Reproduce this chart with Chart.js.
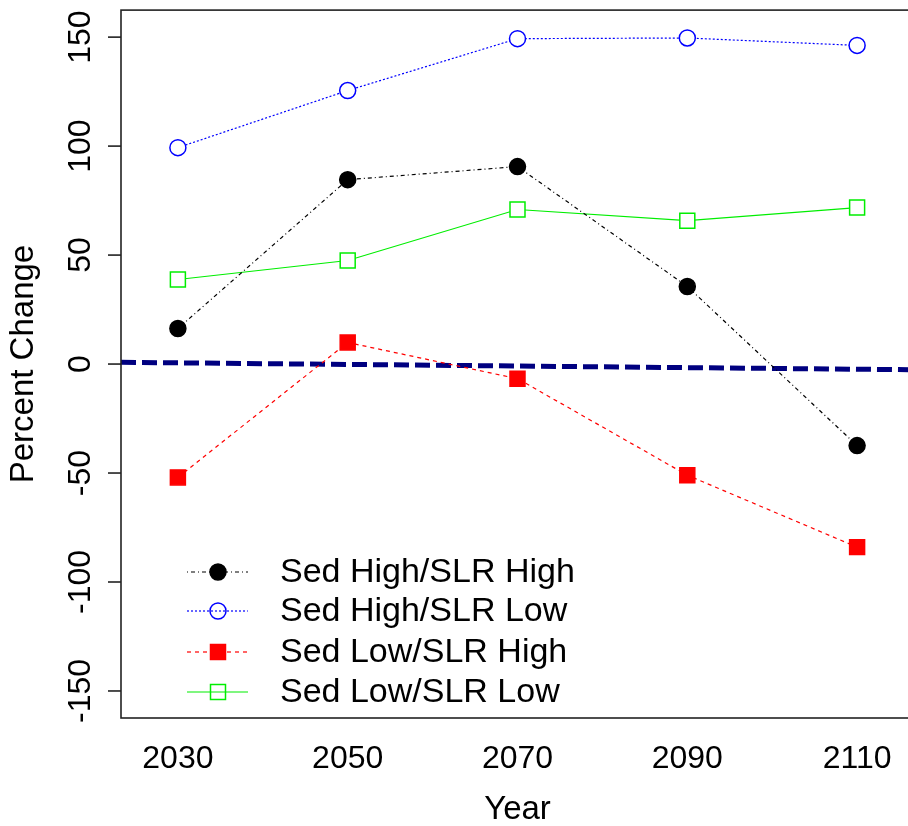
<!DOCTYPE html>
<html>
<head>
<meta charset="utf-8">
<script src="https://cdn.jsdelivr.net/npm/chart.js@4.4.1/dist/chart.umd.min.js"></script>
<style>
  body { margin: 0; background: #fff; overflow: hidden; }
  canvas { display: block; margin-top: -2px; }
</style>
</head>
<body>
<canvas id="chart" width="921" height="830"></canvas>
<script>
// values
const years = [2030, 2050, 2070, 2090, 2110];
const sedHighSlrHigh = [16.3, 84.6, 90.6, 35.6, -37.4];
const sedHighSlrLow = [99.3, 125.5, 149.3, 149.6, 146.2];
const sedLowSlrHigh = [-52, 9.9, -6.7, -51, -84];
const sedLowSlrLow = [38.8, 47.5, 70.9, 65.8, 71.8];

// the thick navy reference line, from the left edge to the right edge
const refX = [2023.3, 2116.1];
const refY = [0.8, -2.6];

const xTicks = [2030, 2050, 2070, 2090, 2110];
const yTicks = [-150, -100, -50, 0, 50, 100, 150];
const seriesNames = ['Sed High/SLR High', 'Sed High/SLR Low', 'Sed Low/SLR High', 'Sed Low/SLR Low'];

const FONT = '"Liberation Sans", Arial, sans-serif';
const OFF = 2; // canvas is shifted up by 2px (point overflow padding)

const pts = (xs, ys) => xs.map((x, i) => ({ x: x, y: ys[i] }));

const series = [
  { data: sedHighSlrHigh, color: '#000000', dash: [1, 3, 4, 3], style: 'circle', fill: '#000000', radius: 8 },
  { data: sedHighSlrLow, color: '#0000ff', dash: [2, 2], style: 'circle', fill: '#ffffff', radius: 8 },
  { data: sedLowSlrHigh, color: '#ff0000', dash: [4, 4], style: 'rect', fill: '#ff0000', radius: 10.6 },
  { data: sedLowSlrLow, color: '#00ee00', dash: [], style: 'rect', fill: '#ffffff', radius: 10.6 }
];

const datasets = series.map((s, i) => ({
  label: seriesNames[i],
  data: pts(years, s.data),
  borderColor: s.color,
  borderWidth: 1.2,
  borderDash: s.dash,
  pointStyle: s.style,
  pointRadius: s.radius,
  pointBackgroundColor: s.fill,
  pointBorderColor: s.color,
  pointBorderWidth: 1.5,
  showLine: true,
  tension: 0
}));

datasets.push({
  label: 'ref',
  data: pts(refX, refY),
  borderColor: '#000080',
  borderWidth: 5,
  borderDash: [15, 6],
  pointRadius: 0,
  showLine: true
});

// axes, box, labels and legend drawn R-style on top of the chart
const rStyle = {
  id: 'rStyle',
  afterDraw(chart) {
    const ctx = chart.ctx;
    const a = chart.chartArea;
    const xs = chart.scales.x;
    const ys = chart.scales.y;
    ctx.save();

    ctx.strokeStyle = '#222';
    ctx.lineWidth = 1.6;
    ctx.strokeRect(a.left, a.top, a.right - a.left + 4, a.bottom - a.top);

    ctx.fillStyle = '#000';
    ctx.font = '32px ' + FONT;

    // y ticks, labels rotated like R
    yTicks.forEach(v => {
      const py = ys.getPixelForValue(v);
      ctx.beginPath();
      ctx.moveTo(a.left - 13, py);
      ctx.lineTo(a.left, py);
      ctx.stroke();
      ctx.save();
      ctx.translate(90, py);
      ctx.rotate(-Math.PI / 2);
      ctx.textAlign = 'center';
      ctx.textBaseline = 'alphabetic';
      ctx.fillText(String(v), 0, 0);
      ctx.restore();
    });

    // x labels
    ctx.textAlign = 'center';
    ctx.textBaseline = 'alphabetic';
    xTicks.forEach(v => {
      ctx.fillText(String(v), xs.getPixelForValue(v), 768 + OFF);
    });

    // axis titles
    ctx.font = '33px ' + FONT;
    ctx.fillText('Year', xs.getPixelForValue(2070), 819 + OFF);
    ctx.save();
    ctx.translate(33, (a.top + a.bottom) / 2);
    ctx.rotate(-Math.PI / 2);
    ctx.fillText('Percent Change', 0, 0);
    ctx.restore();

    // legend
    const rowY = [572, 611, 652, 692];
    ctx.textAlign = 'left';
    ctx.textBaseline = 'middle';
    series.forEach((s, i) => {
      const y = rowY[i] + OFF;
      ctx.strokeStyle = s.color;
      ctx.lineWidth = 1.2;
      ctx.setLineDash(s.dash);
      ctx.beginPath();
      ctx.moveTo(187, y);
      ctx.lineTo(248, y);
      ctx.stroke();
      ctx.setLineDash([]);
      ctx.lineWidth = 1.5;
      if (s.style === 'circle') {
        ctx.beginPath();
        ctx.arc(218, y, s.radius, 0, Math.PI * 2);
        if (s.fill !== '#ffffff') { ctx.fillStyle = s.fill; ctx.fill(); }
        ctx.stroke();
      } else {
        const h = s.radius * Math.SQRT1_2;
        if (s.fill !== '#ffffff') { ctx.fillStyle = s.fill; ctx.fillRect(218 - h, y - h, 2 * h, 2 * h); }
        ctx.strokeRect(218 - h, y - h, 2 * h, 2 * h);
      }
      ctx.fillStyle = '#000';
      ctx.font = '34px ' + FONT;
      ctx.fillText(seriesNames[i], 280, y + 1);
    });

    ctx.restore();
  }
};

new Chart(document.getElementById('chart'), {
  type: 'scatter',
  data: { datasets: datasets },
  options: {
    responsive: false,
    animation: false,
    devicePixelRatio: 1,
    layout: { padding: { left: 121, top: 12, right: 0, bottom: 110 } },
    scales: {
      x: { type: 'linear', display: false, min: 2023.3, max: 2116.1 },
      y: { type: 'linear', display: false, min: -162.4, max: 162.4 }
    },
    plugins: { legend: { display: false }, tooltip: { enabled: false } }
  },
  plugins: [rStyle]
});
</script>
</body>
</html>
